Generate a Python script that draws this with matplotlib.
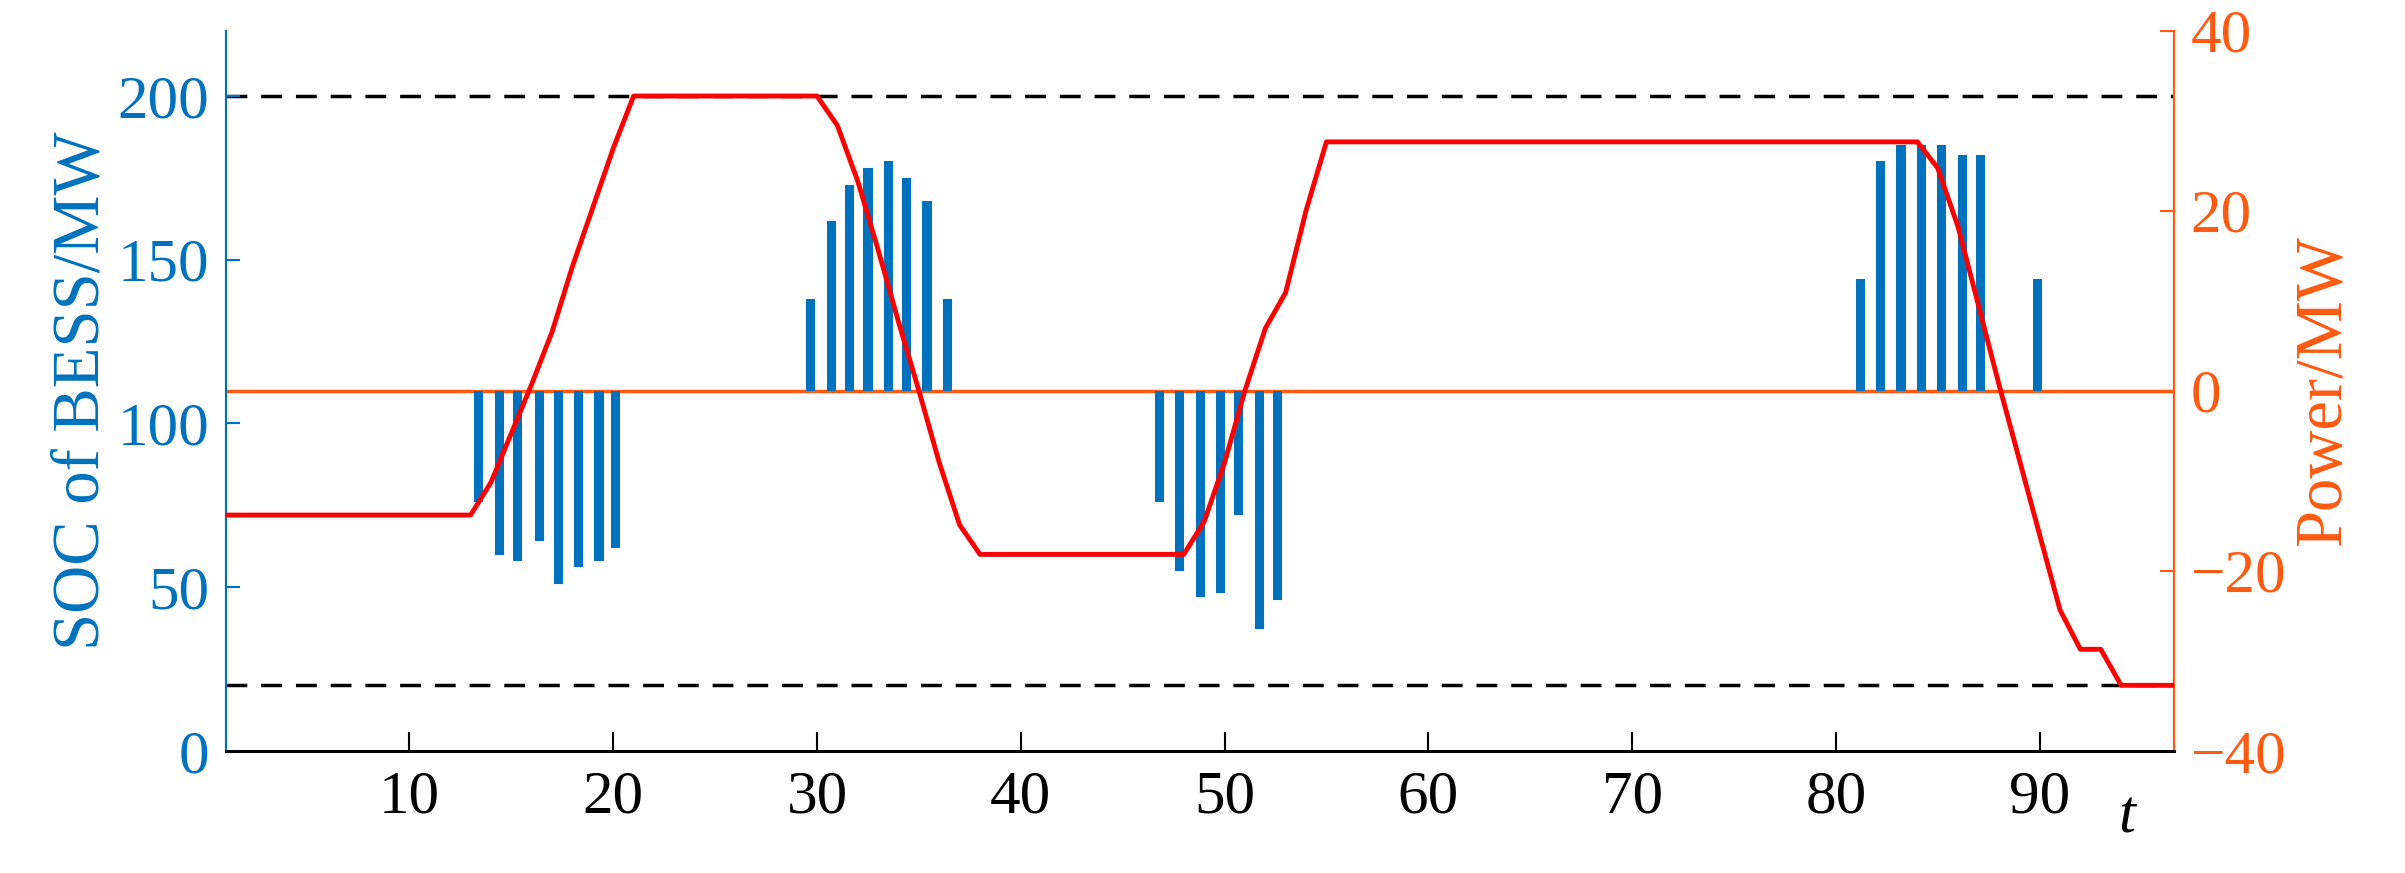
import matplotlib.pyplot as plt
import numpy as np

plt.rcParams["font.family"] = ["Liberation Serif", "DejaVu Serif"]

BLUE = "#0072BD"
ORANGE = "#FF5A10"
RED = "#FF0000"

# SOC of BESS (left axis), one value per time step
soc_t = [1, 13, 14, 15, 16, 17, 18, 19, 20, 21, 30, 31, 32, 33, 34, 35, 36, 37, 38,
         48, 49, 50, 51, 52, 53, 54, 55, 84, 85, 86, 87, 88, 89, 90, 91, 92, 93, 94, 97]
soc = [72, 72, 82, 97, 112, 128, 148, 166, 184, 200, 200, 191, 174, 153, 131, 110, 88,
       69, 60, 60, 70, 88, 110, 129, 140, 165, 186, 186, 178, 160, 136, 112, 89,
       66, 43, 31, 31, 20, 20]

# BESS power (right axis)
p_t = [13.4, 14.4, 15.3, 16.4, 17.3, 18.3, 19.3, 20.1,
       29.7, 30.7, 31.6, 32.5, 33.5, 34.4, 35.4, 36.4,
       46.8, 47.8, 48.8, 49.8, 50.7, 51.7, 52.6,
       81.2, 82.2, 83.2, 84.2, 85.2, 86.2, 87.1, 89.9]
power = [-12.4, -18.2, -18.9, -16.7, -21.5, -19.6, -18.9, -17.5,
         10.2, 18.9, 22.9, 24.7, 25.5, 23.6, 21.1, 10.2,
         -12.4, -20.0, -22.9, -22.5, -13.8, -26.5, -23.3,
         12.4, 25.5, 27.3, 27.3, 27.3, 26.2, 26.2, 12.4]

soc_limits = [200, 20]
x_ticks = [10, 20, 30, 40, 50, 60, 70, 80, 90]

fig = plt.figure(figsize=(24.05, 8.73), dpi=100)
ax = fig.add_axes([0.094, 0.14, 0.81, 0.825])
ax2 = ax.twinx()

ax2.bar(p_t, power, width=0.45, color=BLUE, zorder=2)
ax2.axhline(0, color=ORANGE, lw=2.5, zorder=1)
ax2.set_ylim(-40, 40)
ax2.set_yticks([-40, -20, 0, 20, 40])

for lim in soc_limits:
    ax.axhline(lim, color="black", ls=(0, (6, 4)), lw=2.5, zorder=1)
ax.plot(soc_t, soc, color=RED, lw=3.5, zorder=3)
ax.set_zorder(ax2.get_zorder() + 1)
ax.patch.set_visible(False)

ax.set_xlim(1, 96.6)
ax.set_ylim(0, 220)
ax.set_xticks(x_ticks)
ax.set_yticks([0, 50, 100, 150, 200])

ax.tick_params(axis="x", direction="in", length=14, width=1.5, labelsize=44, pad=14)
ax.tick_params(axis="y", direction="in", length=10, width=1.5, labelsize=44,
               colors=BLUE, pad=12)
ax2.tick_params(axis="y", direction="in", length=10, width=1.5, labelsize=44,
                colors=ORANGE, pad=12)

ax.set_ylabel("SOC of BESS/MW", color=BLUE, fontsize=48)
ax2.set_ylabel("Power/MW", color=ORANGE, fontsize=48)
ax.text(94.3, -0.055, "t", transform=ax.get_xaxis_transform(), fontsize=44,
        style="italic", ha="center", va="top")

for a in (ax, ax2):
    a.spines["top"].set_visible(False)
    a.spines["left"].set_color(BLUE)
    a.spines["right"].set_color(ORANGE)
    a.spines["bottom"].set_color("black")
    a.spines["bottom"].set_linewidth(2)
    a.spines["left"].set_linewidth(1.5)
    a.spines["right"].set_linewidth(1.5)

fig.savefig("out.png", dpi=100)
